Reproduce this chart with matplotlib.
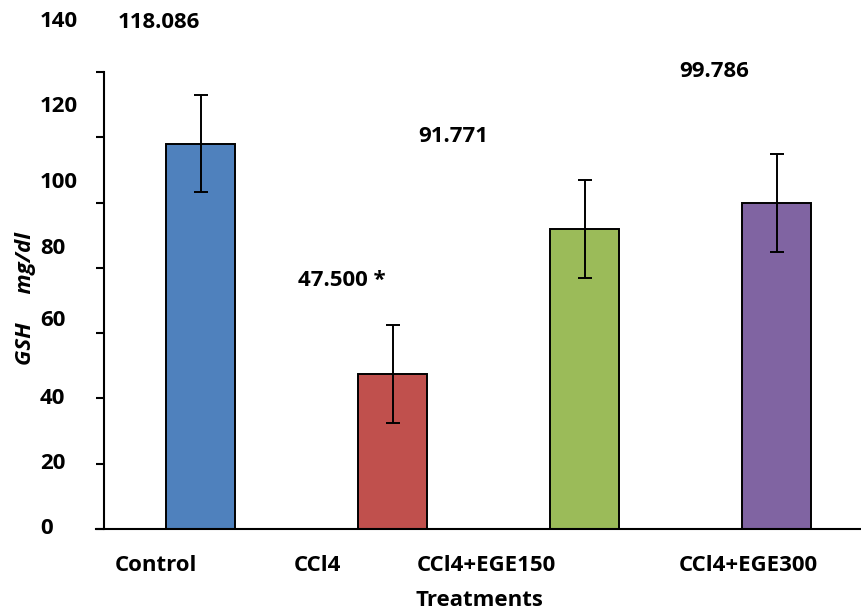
import numpy as np
import matplotlib.pyplot as plt

# data
groups = ["Control", "CCl4", "CCl4+EGE150", "CCl4+EGE300"]
gsh_mean = [118.086, 47.500, 91.771, 99.786]
gsh_err = [15, 15, 15, 15]
value_labels = ["118.086", "47.500 *", "91.771", "99.786"]
bar_colors = ["#4F81BD", "#C0504D", "#9BBB59", "#8064A2"]
y_ticks = [0, 20, 40, 60, 80, 100, 120, 140]

# layout (label placement as in the original figure)
ytick_label_y = [0, 20, 40, 64, 86, 106, 129.5, 155.5]
xtick_label_x = [-0.234, 0.609, 1.490, 2.854]
value_label_xy = [(-0.221, 155.2), (0.734, 76), (1.3125, 120.3), (2.677, 140.3)]

plt.rcParams['font.family'] = ['Open Sans', 'DejaVu Sans']
plt.rcParams['font.weight'] = 'bold'
FS = 16

fig = plt.figure(figsize=(8.61, 6.12), dpi=100)
ax = fig.add_axes([104 / 861, 1 - 529 / 612, 1 - 104 / 861, (529 - 72) / 612])

x = np.arange(len(groups))
ax.bar(x, gsh_mean, width=0.36, color=bar_colors, edgecolor='black', linewidth=1.4,
       yerr=gsh_err, capsize=4.8, error_kw=dict(elinewidth=1.4, capthick=1.4, ecolor='black'),
       zorder=2)

ax.set_xlim(-0.505, 3.44)
ax.set_ylim(0, 140)

for s in ['top', 'right']:
    ax.spines[s].set_visible(False)
ax.spines['left'].set_linewidth(1.5)
ax.spines['bottom'].set_linewidth(1.5)
ax.spines['bottom'].set_bounds(-0.547, 3.44)

ax.set_yticks(y_ticks)
ax.set_yticklabels([])
ax.tick_params(axis='y', direction='out', length=6, width=1.5)
for t, yl in zip(y_ticks, ytick_label_y):
    ax.text(-0.0845, yl, str(t), transform=ax.get_yaxis_transform(), ha='left', va='center',
            fontsize=FS, fontweight='bold', clip_on=False)

ax.set_xticks(xtick_label_x)
ax.set_xticklabels(groups, fontsize=FS, fontweight='bold')
ax.tick_params(axis='x', length=0, pad=19)

for lab, (lx, ly) in zip(value_labels, value_label_xy):
    ax.text(lx, ly, lab, ha='center', va='center', fontsize=FS, fontweight='bold', clip_on=False)

fig.text(479 / 861, 1 - 600 / 612, "Treatments", ha='center', va='center', fontsize=FS, fontweight='bold')
fig.text(26 / 861, 1 - 299 / 612, "GSH     mg/dl", ha='center', va='center', rotation=90,
         fontsize=FS, fontweight='bold', fontstyle='italic')

fig.savefig("out.png", dpi=100)
